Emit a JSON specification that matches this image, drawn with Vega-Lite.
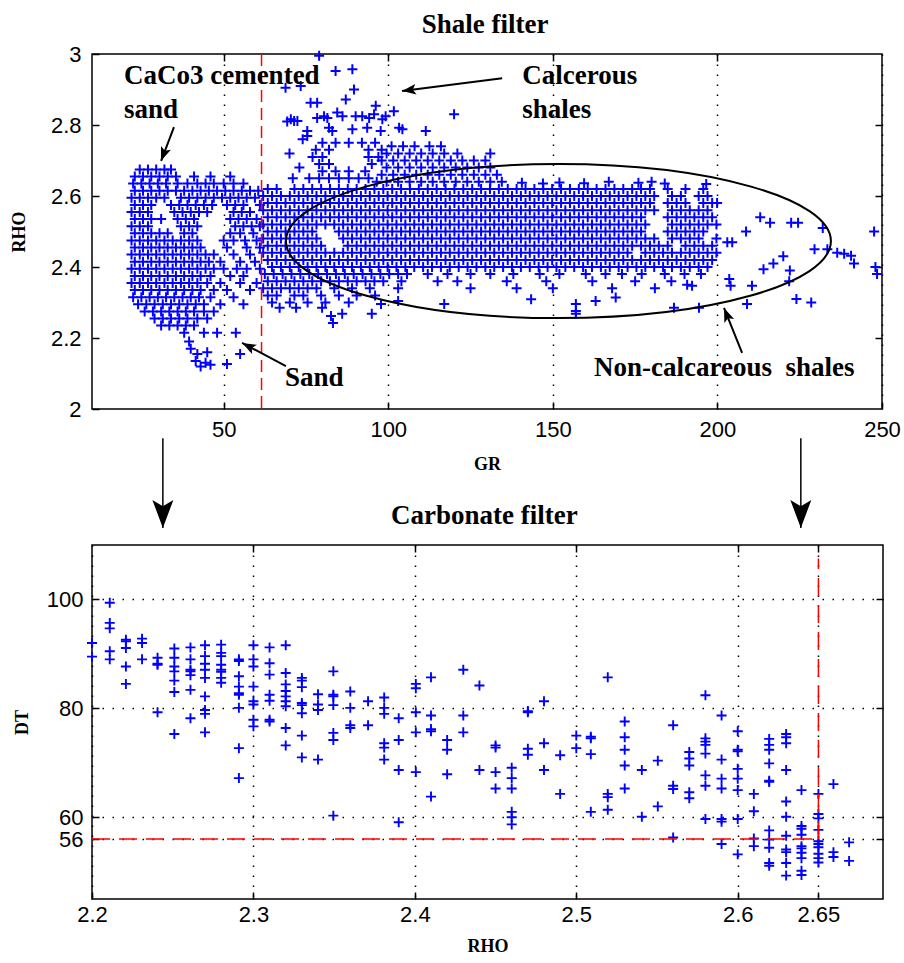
{
"$schema":"https://vega.github.io/schema/vega-lite/v6.json",
"background":"white",
"padding":{"left":9,"top":10,"right":8,"bottom":6},
"bounds":"flush",
"spacing":136,
"config":{
"view":{"stroke":"#000","strokeWidth":1.5},
"axis":{"labelFont":"Liberation Sans","labelFontSize":22,"labelColor":"#000","tickColor":"#000","tickSize":-7,"tickWidth":1.5,"domain":false,"titleFont":"Liberation Serif","titleFontSize":18,"titleFontWeight":"bold","titleColor":"#000","gridColor":"#000","gridDash":[1.5,8.5],"gridWidth":1.5,"gridOpacity":1,"labelOverlap":false,"labelFlush":false}
},
"datasets":{
"shale":[
{"g":24.5,"r":2.675},{"g":27,"r":2.675},{"g":29.5,"r":2.675},{"g":32,"r":2.675},{"g":34,"r":2.675},
{"g":23,"r":2.655},{"g":25.5,"r":2.655},{"g":28,"r":2.655},{"g":30.5,"r":2.655},{"g":33,"r":2.655},{"g":35.5,"r":2.655},{"g":41,"r":2.655},{"g":46,"r":2.655},{"g":52,"r":2.655},
{"g":22.5,"r":2.635},{"g":25,"r":2.635},{"g":27.5,"r":2.635},{"g":30,"r":2.635},{"g":32.5,"r":2.635},{"g":36,"r":2.635},{"g":39,"r":2.635},{"g":42,"r":2.635},{"g":44.5,"r":2.635},{"g":47,"r":2.635},{"g":50,"r":2.635},{"g":53,"r":2.635},{"g":56,"r":2.635},
{"g":23,"r":2.615},{"g":25.5,"r":2.615},{"g":28,"r":2.615},{"g":30.5,"r":2.615},{"g":33,"r":2.615},{"g":35.5,"r":2.615},{"g":38,"r":2.615},{"g":40.5,"r":2.615},{"g":43,"r":2.615},{"g":45.5,"r":2.615},{"g":48,"r":2.615},{"g":50.5,"r":2.615},{"g":53,"r":2.615},{"g":55.5,"r":2.615},{"g":58,"r":2.615},{"g":60.5,"r":2.615},
{"g":22,"r":2.595},{"g":24.5,"r":2.595},{"g":27,"r":2.595},{"g":29.5,"r":2.595},{"g":32,"r":2.595},{"g":37,"r":2.595},{"g":39.5,"r":2.595},{"g":42,"r":2.595},{"g":44.5,"r":2.595},{"g":47,"r":2.595},{"g":49.5,"r":2.595},{"g":52,"r":2.595},{"g":54.5,"r":2.595},{"g":57,"r":2.595},{"g":59.5,"r":2.595},
{"g":23,"r":2.575},{"g":25.5,"r":2.575},{"g":28,"r":2.575},{"g":34,"r":2.575},{"g":36.5,"r":2.575},{"g":39,"r":2.575},{"g":41.5,"r":2.575},{"g":44,"r":2.575},{"g":46.5,"r":2.575},{"g":51,"r":2.575},{"g":53.5,"r":2.575},{"g":56,"r":2.575},{"g":61,"r":2.575},
{"g":22,"r":2.555},{"g":24.5,"r":2.555},{"g":27,"r":2.555},{"g":35,"r":2.555},{"g":37.5,"r":2.555},{"g":40,"r":2.555},{"g":42.5,"r":2.555},{"g":45,"r":2.555},{"g":53,"r":2.555},{"g":55.5,"r":2.555},{"g":58,"r":2.555},
{"g":23,"r":2.535},{"g":25.5,"r":2.535},{"g":28,"r":2.535},{"g":31,"r":2.535},{"g":36,"r":2.535},{"g":38.5,"r":2.535},{"g":41,"r":2.535},{"g":52,"r":2.535},{"g":54.5,"r":2.535},{"g":57,"r":2.535},{"g":60,"r":2.535},
{"g":22,"r":2.515},{"g":24.5,"r":2.515},{"g":27,"r":2.515},{"g":37,"r":2.515},{"g":39.5,"r":2.515},{"g":42,"r":2.515},{"g":53.5,"r":2.515},{"g":56,"r":2.515},{"g":58.5,"r":2.515},{"g":61,"r":2.515},
{"g":23,"r":2.495},{"g":25.5,"r":2.495},{"g":28,"r":2.495},{"g":30.5,"r":2.495},{"g":33,"r":2.495},{"g":38,"r":2.495},{"g":40.5,"r":2.495},{"g":52,"r":2.495},{"g":55,"r":2.495},{"g":59,"r":2.495},
{"g":22,"r":2.475},{"g":24.5,"r":2.475},{"g":27,"r":2.475},{"g":29.5,"r":2.475},{"g":32,"r":2.475},{"g":34.5,"r":2.475},{"g":37,"r":2.475},{"g":39.5,"r":2.475},{"g":42,"r":2.475},{"g":50,"r":2.475},{"g":53,"r":2.475},{"g":56.5,"r":2.475},{"g":60,"r":2.475},
{"g":23,"r":2.455},{"g":25.5,"r":2.455},{"g":28,"r":2.455},{"g":30.5,"r":2.455},{"g":33,"r":2.455},{"g":35.5,"r":2.455},{"g":38,"r":2.455},{"g":40.5,"r":2.455},{"g":43,"r":2.455},{"g":51,"r":2.455},{"g":57,"r":2.455},{"g":61,"r":2.455},
{"g":22,"r":2.435},{"g":24.5,"r":2.435},{"g":27,"r":2.435},{"g":29.5,"r":2.435},{"g":32,"r":2.435},{"g":34.5,"r":2.435},{"g":37,"r":2.435},{"g":39.5,"r":2.435},{"g":42,"r":2.435},{"g":44.5,"r":2.435},{"g":47,"r":2.435},{"g":53,"r":2.435},{"g":58,"r":2.435},
{"g":23,"r":2.415},{"g":25.5,"r":2.415},{"g":28,"r":2.415},{"g":30.5,"r":2.415},{"g":33,"r":2.415},{"g":35.5,"r":2.415},{"g":38,"r":2.415},{"g":40.5,"r":2.415},{"g":43,"r":2.415},{"g":45.5,"r":2.415},{"g":49,"r":2.415},{"g":55,"r":2.415},{"g":59.5,"r":2.415},
{"g":22,"r":2.395},{"g":24.5,"r":2.395},{"g":27,"r":2.395},{"g":29.5,"r":2.395},{"g":32,"r":2.395},{"g":34.5,"r":2.395},{"g":37,"r":2.395},{"g":39.5,"r":2.395},{"g":42,"r":2.395},{"g":44.5,"r":2.395},{"g":47,"r":2.395},{"g":50,"r":2.395},{"g":54,"r":2.395},{"g":57,"r":2.395},{"g":61,"r":2.395},
{"g":23,"r":2.375},{"g":25.5,"r":2.375},{"g":28,"r":2.375},{"g":30.5,"r":2.375},{"g":33,"r":2.375},{"g":35.5,"r":2.375},{"g":38,"r":2.375},{"g":40.5,"r":2.375},{"g":43,"r":2.375},{"g":46,"r":2.375},{"g":52,"r":2.375},{"g":56,"r":2.375},
{"g":22,"r":2.355},{"g":24.5,"r":2.355},{"g":27,"r":2.355},{"g":29.5,"r":2.355},{"g":32,"r":2.355},{"g":34.5,"r":2.355},{"g":37,"r":2.355},{"g":39.5,"r":2.355},{"g":42,"r":2.355},{"g":45,"r":2.355},{"g":49,"r":2.355},{"g":55,"r":2.355},{"g":60,"r":2.355},
{"g":23,"r":2.335},{"g":25.5,"r":2.335},{"g":28,"r":2.335},{"g":30.5,"r":2.335},{"g":33,"r":2.335},{"g":35.5,"r":2.335},{"g":38,"r":2.335},{"g":40.5,"r":2.335},{"g":43,"r":2.335},{"g":47,"r":2.335},{"g":51,"r":2.335},{"g":58,"r":2.335},
{"g":22.5,"r":2.315},{"g":25,"r":2.315},{"g":27.5,"r":2.315},{"g":30,"r":2.315},{"g":32.5,"r":2.315},{"g":35,"r":2.315},{"g":37.5,"r":2.315},{"g":40,"r":2.315},{"g":42.5,"r":2.315},{"g":46,"r":2.315},{"g":53,"r":2.315},
{"g":24,"r":2.295},{"g":26.5,"r":2.295},{"g":29,"r":2.295},{"g":31.5,"r":2.295},{"g":34,"r":2.295},{"g":36.5,"r":2.295},{"g":39,"r":2.295},{"g":41.5,"r":2.295},{"g":44,"r":2.295},{"g":49,"r":2.295},{"g":56,"r":2.295},
{"g":26,"r":2.275},{"g":28.5,"r":2.275},{"g":31,"r":2.275},{"g":33.5,"r":2.275},{"g":36,"r":2.275},{"g":38.5,"r":2.275},{"g":41,"r":2.275},{"g":44,"r":2.275},{"g":47,"r":2.275},
{"g":29,"r":2.255},{"g":31.5,"r":2.255},{"g":34,"r":2.255},{"g":36.5,"r":2.255},{"g":39,"r":2.255},{"g":42,"r":2.255},{"g":45,"r":2.255},
{"g":31,"r":2.235},{"g":33.5,"r":2.235},{"g":36,"r":2.235},{"g":38.5,"r":2.235},{"g":41,"r":2.235},
{"g":38,"r":2.215},{"g":44,"r":2.215},{"g":48,"r":2.215},{"g":53.7,"r":2.215},
{"g":39.5,"r":2.19},{"g":40,"r":2.17},{"g":42,"r":2.155},{"g":41.5,"r":2.135},{"g":43,"r":2.12},{"g":44.5,"r":2.13},{"g":46,"r":2.125},{"g":51,"r":2.127},{"g":55,"r":2.155},{"g":45,"r":2.16},
{"g":63.4,"r":2.62},{"g":66.1,"r":2.62},{"g":71.5,"r":2.62},{"g":74.2,"r":2.62},{"g":76.9,"r":2.62},{"g":79.6,"r":2.62},{"g":82.3,"r":2.62},{"g":85,"r":2.62},{"g":87.7,"r":2.62},{"g":90.4,"r":2.62},{"g":93.1,"r":2.62},{"g":95.8,"r":2.62},{"g":98.5,"r":2.62},{"g":101.2,"r":2.62},{"g":103.9,"r":2.62},{"g":106.6,"r":2.62},{"g":109.3,"r":2.62},{"g":112,"r":2.62},{"g":114.7,"r":2.62},{"g":117.4,"r":2.62},{"g":120.1,"r":2.62},{"g":122.8,"r":2.62},{"g":125.5,"r":2.62},{"g":128.2,"r":2.62},{"g":130.9,"r":2.62},{"g":133.6,"r":2.62},{"g":136.3,"r":2.62},{"g":139,"r":2.62},{"g":141.7,"r":2.62},{"g":144.4,"r":2.62},{"g":147.1,"r":2.62},{"g":149.8,"r":2.62},{"g":152.5,"r":2.62},{"g":155.2,"r":2.62},{"g":157.9,"r":2.62},{"g":160.6,"r":2.62},{"g":163.3,"r":2.62},{"g":166,"r":2.62},{"g":168.7,"r":2.62},{"g":171.4,"r":2.62},{"g":174.1,"r":2.62},{"g":176.8,"r":2.62},{"g":179.5,"r":2.62},{"g":184.9,"r":2.62},{"g":190.3,"r":2.62},{"g":195.7,"r":2.62},
{"g":62,"r":2.6},{"g":64.7,"r":2.6},{"g":67.4,"r":2.6},{"g":70.1,"r":2.6},{"g":72.8,"r":2.6},{"g":75.5,"r":2.6},{"g":78.2,"r":2.6},{"g":80.9,"r":2.6},{"g":83.6,"r":2.6},{"g":86.3,"r":2.6},{"g":89,"r":2.6},{"g":91.7,"r":2.6},{"g":94.4,"r":2.6},{"g":97.1,"r":2.6},{"g":99.8,"r":2.6},{"g":102.5,"r":2.6},{"g":105.2,"r":2.6},{"g":107.9,"r":2.6},{"g":110.6,"r":2.6},{"g":113.3,"r":2.6},{"g":116,"r":2.6},{"g":118.7,"r":2.6},{"g":121.4,"r":2.6},{"g":124.1,"r":2.6},{"g":126.8,"r":2.6},{"g":129.5,"r":2.6},{"g":132.2,"r":2.6},{"g":134.9,"r":2.6},{"g":137.6,"r":2.6},{"g":140.3,"r":2.6},{"g":143,"r":2.6},{"g":145.7,"r":2.6},{"g":148.4,"r":2.6},{"g":151.1,"r":2.6},{"g":153.8,"r":2.6},{"g":156.5,"r":2.6},{"g":159.2,"r":2.6},{"g":161.9,"r":2.6},{"g":164.6,"r":2.6},{"g":167.3,"r":2.6},{"g":170,"r":2.6},{"g":172.7,"r":2.6},{"g":175.4,"r":2.6},{"g":178.1,"r":2.6},{"g":180.8,"r":2.6},{"g":186.2,"r":2.6},{"g":188.9,"r":2.6},{"g":194.3,"r":2.6},{"g":197,"r":2.6},
{"g":63.4,"r":2.58},{"g":66.1,"r":2.58},{"g":68.8,"r":2.58},{"g":71.5,"r":2.58},{"g":74.2,"r":2.58},{"g":76.9,"r":2.58},{"g":79.6,"r":2.58},{"g":82.3,"r":2.58},{"g":85,"r":2.58},{"g":87.7,"r":2.58},{"g":90.4,"r":2.58},{"g":93.1,"r":2.58},{"g":95.8,"r":2.58},{"g":98.5,"r":2.58},{"g":101.2,"r":2.58},{"g":103.9,"r":2.58},{"g":106.6,"r":2.58},{"g":109.3,"r":2.58},{"g":112,"r":2.58},{"g":114.7,"r":2.58},{"g":117.4,"r":2.58},{"g":120.1,"r":2.58},{"g":122.8,"r":2.58},{"g":125.5,"r":2.58},{"g":128.2,"r":2.58},{"g":130.9,"r":2.58},{"g":133.6,"r":2.58},{"g":136.3,"r":2.58},{"g":139,"r":2.58},{"g":141.7,"r":2.58},{"g":144.4,"r":2.58},{"g":147.1,"r":2.58},{"g":149.8,"r":2.58},{"g":152.5,"r":2.58},{"g":155.2,"r":2.58},{"g":157.9,"r":2.58},{"g":160.6,"r":2.58},{"g":163.3,"r":2.58},{"g":166,"r":2.58},{"g":168.7,"r":2.58},{"g":171.4,"r":2.58},{"g":174.1,"r":2.58},{"g":176.8,"r":2.58},{"g":179.5,"r":2.58},{"g":184.9,"r":2.58},{"g":187.6,"r":2.58},{"g":190.3,"r":2.58},{"g":195.7,"r":2.58},{"g":198.4,"r":2.58},
{"g":62,"r":2.56},{"g":64.7,"r":2.56},{"g":67.4,"r":2.56},{"g":70.1,"r":2.56},{"g":72.8,"r":2.56},{"g":75.5,"r":2.56},{"g":78.2,"r":2.56},{"g":80.9,"r":2.56},{"g":83.6,"r":2.56},{"g":86.3,"r":2.56},{"g":89,"r":2.56},{"g":91.7,"r":2.56},{"g":94.4,"r":2.56},{"g":97.1,"r":2.56},{"g":99.8,"r":2.56},{"g":102.5,"r":2.56},{"g":105.2,"r":2.56},{"g":107.9,"r":2.56},{"g":110.6,"r":2.56},{"g":113.3,"r":2.56},{"g":116,"r":2.56},{"g":118.7,"r":2.56},{"g":121.4,"r":2.56},{"g":124.1,"r":2.56},{"g":126.8,"r":2.56},{"g":129.5,"r":2.56},{"g":132.2,"r":2.56},{"g":134.9,"r":2.56},{"g":137.6,"r":2.56},{"g":140.3,"r":2.56},{"g":143,"r":2.56},{"g":145.7,"r":2.56},{"g":148.4,"r":2.56},{"g":151.1,"r":2.56},{"g":153.8,"r":2.56},{"g":156.5,"r":2.56},{"g":159.2,"r":2.56},{"g":161.9,"r":2.56},{"g":164.6,"r":2.56},{"g":167.3,"r":2.56},{"g":170,"r":2.56},{"g":172.7,"r":2.56},{"g":175.4,"r":2.56},{"g":178.1,"r":2.56},{"g":180.8,"r":2.56},{"g":186.2,"r":2.56},{"g":188.9,"r":2.56},{"g":191.6,"r":2.56},{"g":194.3,"r":2.56},{"g":197,"r":2.56},
{"g":63.4,"r":2.54},{"g":66.1,"r":2.54},{"g":68.8,"r":2.54},{"g":71.5,"r":2.54},{"g":74.2,"r":2.54},{"g":76.9,"r":2.54},{"g":79.6,"r":2.54},{"g":82.3,"r":2.54},{"g":85,"r":2.54},{"g":87.7,"r":2.54},{"g":90.4,"r":2.54},{"g":93.1,"r":2.54},{"g":95.8,"r":2.54},{"g":98.5,"r":2.54},{"g":101.2,"r":2.54},{"g":103.9,"r":2.54},{"g":106.6,"r":2.54},{"g":109.3,"r":2.54},{"g":112,"r":2.54},{"g":114.7,"r":2.54},{"g":117.4,"r":2.54},{"g":120.1,"r":2.54},{"g":122.8,"r":2.54},{"g":125.5,"r":2.54},{"g":128.2,"r":2.54},{"g":130.9,"r":2.54},{"g":133.6,"r":2.54},{"g":136.3,"r":2.54},{"g":139,"r":2.54},{"g":141.7,"r":2.54},{"g":144.4,"r":2.54},{"g":147.1,"r":2.54},{"g":149.8,"r":2.54},{"g":152.5,"r":2.54},{"g":155.2,"r":2.54},{"g":157.9,"r":2.54},{"g":160.6,"r":2.54},{"g":163.3,"r":2.54},{"g":166,"r":2.54},{"g":168.7,"r":2.54},{"g":171.4,"r":2.54},{"g":174.1,"r":2.54},{"g":176.8,"r":2.54},{"g":184.9,"r":2.54},{"g":187.6,"r":2.54},{"g":190.3,"r":2.54},{"g":193,"r":2.54},{"g":195.7,"r":2.54},{"g":198.4,"r":2.54},
{"g":62,"r":2.52},{"g":64.7,"r":2.52},{"g":67.4,"r":2.52},{"g":70.1,"r":2.52},{"g":72.8,"r":2.52},{"g":75.5,"r":2.52},{"g":78.2,"r":2.52},{"g":80.9,"r":2.52},{"g":83.6,"r":2.52},{"g":86.3,"r":2.52},{"g":89,"r":2.52},{"g":91.7,"r":2.52},{"g":94.4,"r":2.52},{"g":97.1,"r":2.52},{"g":99.8,"r":2.52},{"g":102.5,"r":2.52},{"g":105.2,"r":2.52},{"g":107.9,"r":2.52},{"g":110.6,"r":2.52},{"g":113.3,"r":2.52},{"g":116,"r":2.52},{"g":118.7,"r":2.52},{"g":121.4,"r":2.52},{"g":124.1,"r":2.52},{"g":126.8,"r":2.52},{"g":129.5,"r":2.52},{"g":132.2,"r":2.52},{"g":134.9,"r":2.52},{"g":137.6,"r":2.52},{"g":140.3,"r":2.52},{"g":143,"r":2.52},{"g":145.7,"r":2.52},{"g":148.4,"r":2.52},{"g":151.1,"r":2.52},{"g":153.8,"r":2.52},{"g":156.5,"r":2.52},{"g":159.2,"r":2.52},{"g":161.9,"r":2.52},{"g":164.6,"r":2.52},{"g":167.3,"r":2.52},{"g":170,"r":2.52},{"g":172.7,"r":2.52},{"g":175.4,"r":2.52},{"g":178.1,"r":2.52},{"g":186.2,"r":2.52},{"g":188.9,"r":2.52},{"g":191.6,"r":2.52},{"g":194.3,"r":2.52},{"g":197,"r":2.52},{"g":199.7,"r":2.52},
{"g":63.4,"r":2.5},{"g":66.1,"r":2.5},{"g":68.8,"r":2.5},{"g":71.5,"r":2.5},{"g":74.2,"r":2.5},{"g":76.9,"r":2.5},{"g":85,"r":2.5},{"g":87.7,"r":2.5},{"g":90.4,"r":2.5},{"g":93.1,"r":2.5},{"g":95.8,"r":2.5},{"g":98.5,"r":2.5},{"g":101.2,"r":2.5},{"g":103.9,"r":2.5},{"g":106.6,"r":2.5},{"g":109.3,"r":2.5},{"g":112,"r":2.5},{"g":114.7,"r":2.5},{"g":117.4,"r":2.5},{"g":120.1,"r":2.5},{"g":122.8,"r":2.5},{"g":125.5,"r":2.5},{"g":128.2,"r":2.5},{"g":130.9,"r":2.5},{"g":133.6,"r":2.5},{"g":136.3,"r":2.5},{"g":139,"r":2.5},{"g":141.7,"r":2.5},{"g":144.4,"r":2.5},{"g":147.1,"r":2.5},{"g":149.8,"r":2.5},{"g":152.5,"r":2.5},{"g":155.2,"r":2.5},{"g":157.9,"r":2.5},{"g":160.6,"r":2.5},{"g":163.3,"r":2.5},{"g":166,"r":2.5},{"g":168.7,"r":2.5},{"g":171.4,"r":2.5},{"g":174.1,"r":2.5},{"g":176.8,"r":2.5},{"g":184.9,"r":2.5},{"g":187.6,"r":2.5},{"g":190.3,"r":2.5},{"g":193,"r":2.5},{"g":195.7,"r":2.5},
{"g":62,"r":2.48},{"g":64.7,"r":2.48},{"g":67.4,"r":2.48},{"g":70.1,"r":2.48},{"g":72.8,"r":2.48},{"g":75.5,"r":2.48},{"g":78.2,"r":2.48},{"g":86.3,"r":2.48},{"g":89,"r":2.48},{"g":91.7,"r":2.48},{"g":94.4,"r":2.48},{"g":97.1,"r":2.48},{"g":99.8,"r":2.48},{"g":102.5,"r":2.48},{"g":105.2,"r":2.48},{"g":107.9,"r":2.48},{"g":110.6,"r":2.48},{"g":113.3,"r":2.48},{"g":116,"r":2.48},{"g":118.7,"r":2.48},{"g":121.4,"r":2.48},{"g":124.1,"r":2.48},{"g":126.8,"r":2.48},{"g":129.5,"r":2.48},{"g":132.2,"r":2.48},{"g":134.9,"r":2.48},{"g":137.6,"r":2.48},{"g":140.3,"r":2.48},{"g":143,"r":2.48},{"g":145.7,"r":2.48},{"g":148.4,"r":2.48},{"g":151.1,"r":2.48},{"g":153.8,"r":2.48},{"g":156.5,"r":2.48},{"g":159.2,"r":2.48},{"g":161.9,"r":2.48},{"g":164.6,"r":2.48},{"g":167.3,"r":2.48},{"g":170,"r":2.48},{"g":172.7,"r":2.48},{"g":175.4,"r":2.48},{"g":178.1,"r":2.48},{"g":180.8,"r":2.48},{"g":186.2,"r":2.48},{"g":188.9,"r":2.48},{"g":191.6,"r":2.48},{"g":194.3,"r":2.48},{"g":199.7,"r":2.48},
{"g":63.4,"r":2.46},{"g":66.1,"r":2.46},{"g":68.8,"r":2.46},{"g":71.5,"r":2.46},{"g":74.2,"r":2.46},{"g":76.9,"r":2.46},{"g":79.6,"r":2.46},{"g":87.7,"r":2.46},{"g":90.4,"r":2.46},{"g":93.1,"r":2.46},{"g":95.8,"r":2.46},{"g":98.5,"r":2.46},{"g":101.2,"r":2.46},{"g":103.9,"r":2.46},{"g":106.6,"r":2.46},{"g":109.3,"r":2.46},{"g":112,"r":2.46},{"g":114.7,"r":2.46},{"g":117.4,"r":2.46},{"g":120.1,"r":2.46},{"g":122.8,"r":2.46},{"g":125.5,"r":2.46},{"g":128.2,"r":2.46},{"g":130.9,"r":2.46},{"g":133.6,"r":2.46},{"g":136.3,"r":2.46},{"g":139,"r":2.46},{"g":141.7,"r":2.46},{"g":144.4,"r":2.46},{"g":147.1,"r":2.46},{"g":149.8,"r":2.46},{"g":152.5,"r":2.46},{"g":155.2,"r":2.46},{"g":157.9,"r":2.46},{"g":160.6,"r":2.46},{"g":163.3,"r":2.46},{"g":166,"r":2.46},{"g":168.7,"r":2.46},{"g":171.4,"r":2.46},{"g":174.1,"r":2.46},{"g":176.8,"r":2.46},{"g":179.5,"r":2.46},{"g":182.2,"r":2.46},{"g":184.9,"r":2.46},{"g":190.3,"r":2.46},{"g":193,"r":2.46},{"g":195.7,"r":2.46},{"g":198.4,"r":2.46},
{"g":62,"r":2.44},{"g":64.7,"r":2.44},{"g":67.4,"r":2.44},{"g":70.1,"r":2.44},{"g":72.8,"r":2.44},{"g":75.5,"r":2.44},{"g":78.2,"r":2.44},{"g":80.9,"r":2.44},{"g":83.6,"r":2.44},{"g":86.3,"r":2.44},{"g":89,"r":2.44},{"g":91.7,"r":2.44},{"g":94.4,"r":2.44},{"g":97.1,"r":2.44},{"g":99.8,"r":2.44},{"g":102.5,"r":2.44},{"g":105.2,"r":2.44},{"g":107.9,"r":2.44},{"g":110.6,"r":2.44},{"g":113.3,"r":2.44},{"g":116,"r":2.44},{"g":118.7,"r":2.44},{"g":121.4,"r":2.44},{"g":124.1,"r":2.44},{"g":126.8,"r":2.44},{"g":129.5,"r":2.44},{"g":132.2,"r":2.44},{"g":134.9,"r":2.44},{"g":137.6,"r":2.44},{"g":140.3,"r":2.44},{"g":143,"r":2.44},{"g":145.7,"r":2.44},{"g":148.4,"r":2.44},{"g":151.1,"r":2.44},{"g":153.8,"r":2.44},{"g":156.5,"r":2.44},{"g":159.2,"r":2.44},{"g":161.9,"r":2.44},{"g":164.6,"r":2.44},{"g":167.3,"r":2.44},{"g":170,"r":2.44},{"g":172.7,"r":2.44},{"g":178.1,"r":2.44},{"g":180.8,"r":2.44},{"g":183.5,"r":2.44},{"g":186.2,"r":2.44},{"g":188.9,"r":2.44},{"g":191.6,"r":2.44},{"g":194.3,"r":2.44},{"g":197,"r":2.44},{"g":199.7,"r":2.44},
{"g":63.4,"r":2.42},{"g":66.1,"r":2.42},{"g":68.8,"r":2.42},{"g":71.5,"r":2.42},{"g":74.2,"r":2.42},{"g":76.9,"r":2.42},{"g":79.6,"r":2.42},{"g":82.3,"r":2.42},{"g":85,"r":2.42},{"g":87.7,"r":2.42},{"g":90.4,"r":2.42},{"g":93.1,"r":2.42},{"g":95.8,"r":2.42},{"g":98.5,"r":2.42},{"g":101.2,"r":2.42},{"g":103.9,"r":2.42},{"g":106.6,"r":2.42},{"g":109.3,"r":2.42},{"g":112,"r":2.42},{"g":114.7,"r":2.42},{"g":117.4,"r":2.42},{"g":120.1,"r":2.42},{"g":122.8,"r":2.42},{"g":125.5,"r":2.42},{"g":128.2,"r":2.42},{"g":130.9,"r":2.42},{"g":133.6,"r":2.42},{"g":136.3,"r":2.42},{"g":139,"r":2.42},{"g":141.7,"r":2.42},{"g":144.4,"r":2.42},{"g":147.1,"r":2.42},{"g":149.8,"r":2.42},{"g":152.5,"r":2.42},{"g":155.2,"r":2.42},{"g":157.9,"r":2.42},{"g":160.6,"r":2.42},{"g":163.3,"r":2.42},{"g":166,"r":2.42},{"g":168.7,"r":2.42},{"g":171.4,"r":2.42},{"g":174.1,"r":2.42},{"g":176.8,"r":2.42},{"g":179.5,"r":2.42},{"g":182.2,"r":2.42},{"g":184.9,"r":2.42},{"g":187.6,"r":2.42},{"g":190.3,"r":2.42},{"g":193,"r":2.42},{"g":195.7,"r":2.42},{"g":198.4,"r":2.42},
{"g":64.7,"r":2.4},{"g":67.4,"r":2.4},{"g":70.1,"r":2.4},{"g":72.8,"r":2.4},{"g":75.5,"r":2.4},{"g":78.2,"r":2.4},{"g":80.9,"r":2.4},{"g":83.6,"r":2.4},{"g":86.3,"r":2.4},{"g":89,"r":2.4},{"g":91.7,"r":2.4},{"g":94.4,"r":2.4},{"g":97.1,"r":2.4},{"g":99.8,"r":2.4},{"g":102.5,"r":2.4},{"g":105.2,"r":2.4},{"g":107.9,"r":2.4},{"g":110.6,"r":2.4},{"g":113.3,"r":2.4},{"g":116,"r":2.4},{"g":118.7,"r":2.4},{"g":121.4,"r":2.4},{"g":124.1,"r":2.4},{"g":126.8,"r":2.4},{"g":129.5,"r":2.4},{"g":132.2,"r":2.4},{"g":134.9,"r":2.4},{"g":137.6,"r":2.4},{"g":140.3,"r":2.4},{"g":143,"r":2.4},{"g":145.7,"r":2.4},{"g":148.4,"r":2.4},{"g":151.1,"r":2.4},{"g":153.8,"r":2.4},{"g":156.5,"r":2.4},{"g":159.2,"r":2.4},{"g":161.9,"r":2.4},{"g":164.6,"r":2.4},{"g":167.3,"r":2.4},{"g":170,"r":2.4},{"g":172.7,"r":2.4},{"g":175.4,"r":2.4},{"g":178.1,"r":2.4},{"g":180.8,"r":2.4},{"g":183.5,"r":2.4},{"g":186.2,"r":2.4},{"g":188.9,"r":2.4},{"g":191.6,"r":2.4},{"g":194.3,"r":2.4},{"g":197,"r":2.4},
{"g":62.5,"r":2.38},{"g":65.2,"r":2.38},{"g":67.9,"r":2.38},{"g":70.6,"r":2.38},{"g":73.3,"r":2.38},{"g":76,"r":2.38},{"g":78.7,"r":2.38},{"g":81.4,"r":2.38},{"g":84.1,"r":2.38},{"g":86.8,"r":2.38},{"g":89.5,"r":2.38},{"g":92.2,"r":2.38},{"g":94.9,"r":2.38},{"g":97.6,"r":2.38},{"g":100.3,"r":2.38},{"g":103,"r":2.38},{"g":105.7,"r":2.38},{"g":112,"r":2.38},{"g":118,"r":2.38},{"g":125,"r":2.38},{"g":131,"r":2.38},{"g":138,"r":2.38},{"g":146,"r":2.38},{"g":152,"r":2.38},{"g":160,"r":2.38},{"g":166,"r":2.38},{"g":171,"r":2.38},{"g":177,"r":2.38},{"g":184,"r":2.38},{"g":190,"r":2.38},{"g":195,"r":2.38},
{"g":63.4,"r":2.36},{"g":66.1,"r":2.36},{"g":68.8,"r":2.36},{"g":71.5,"r":2.36},{"g":74.2,"r":2.36},{"g":76.9,"r":2.36},{"g":79.6,"r":2.36},{"g":82.3,"r":2.36},{"g":85,"r":2.36},{"g":87.7,"r":2.36},{"g":90.4,"r":2.36},{"g":93.1,"r":2.36},{"g":95.8,"r":2.36},{"g":98.5,"r":2.36},{"g":104,"r":2.36},{"g":115,"r":2.36},{"g":121,"r":2.36},{"g":136,"r":2.36},{"g":148,"r":2.36},{"g":162,"r":2.36},{"g":175,"r":2.36},{"g":186,"r":2.36},{"g":192.3,"r":2.347},
{"g":62,"r":2.34},{"g":64.7,"r":2.34},{"g":67.4,"r":2.34},{"g":70.1,"r":2.34},{"g":72.8,"r":2.34},{"g":75.5,"r":2.34},{"g":78.2,"r":2.34},{"g":83.6,"r":2.34},{"g":89,"r":2.34},{"g":94.4,"r":2.34},{"g":103,"r":2.34},{"g":125,"r":2.34},{"g":139,"r":2.34},{"g":150,"r":2.34},{"g":168,"r":2.34},{"g":181,"r":2.34},{"g":190.8,"r":2.35},
{"g":63.4,"r":2.32},{"g":66.1,"r":2.32},{"g":71.5,"r":2.32},{"g":74.2,"r":2.32},{"g":79.6,"r":2.32},{"g":85,"r":2.32},{"g":90.4,"r":2.32},{"g":96,"r":2.32},{"g":143.4,"r":2.309},
{"g":64.7,"r":2.3},{"g":70.1,"r":2.3},{"g":75.5,"r":2.3},{"g":80.9,"r":2.3},{"g":88,"r":2.3},{"g":97.8,"r":2.296},{"g":103,"r":2.304},{"g":117,"r":2.296},{"g":163,"r":2.304},{"g":169.1,"r":2.314},
{"g":67,"r":2.285},{"g":72,"r":2.285},{"g":79.9,"r":2.285},{"g":186.8,"r":2.285},{"g":194.4,"r":2.285},
{"g":86,"r":2.268},{"g":95,"r":2.268},{"g":157,"r":2.296},{"g":157,"r":2.276},{"g":157,"r":2.268},{"g":82.6,"r":2.262},{"g":83.2,"r":2.242},
{"g":101,"r":2.74},{"g":104.5,"r":2.74},{"g":108,"r":2.74},{"g":112.5,"r":2.74},{"g":116,"r":2.74},
{"g":99.5,"r":2.72},{"g":103,"r":2.72},{"g":106.5,"r":2.72},{"g":110,"r":2.72},{"g":113.5,"r":2.72},{"g":117,"r":2.72},{"g":121,"r":2.72},{"g":131,"r":2.72},
{"g":98,"r":2.7},{"g":101.5,"r":2.7},{"g":105,"r":2.7},{"g":108.5,"r":2.7},{"g":112,"r":2.7},{"g":115.5,"r":2.7},{"g":119,"r":2.7},{"g":122.5,"r":2.7},{"g":126,"r":2.7},{"g":129.5,"r":2.7},
{"g":99.5,"r":2.68},{"g":103,"r":2.68},{"g":106.5,"r":2.68},{"g":110,"r":2.68},{"g":113.5,"r":2.68},{"g":117,"r":2.68},{"g":120.5,"r":2.68},{"g":124,"r":2.68},{"g":127.5,"r":2.68},{"g":131,"r":2.68},
{"g":98,"r":2.66},{"g":101.5,"r":2.66},{"g":105,"r":2.66},{"g":108.5,"r":2.66},{"g":112,"r":2.66},{"g":115.5,"r":2.66},{"g":119,"r":2.66},{"g":122.5,"r":2.66},{"g":126,"r":2.66},{"g":129.5,"r":2.66},{"g":133,"r":2.66},
{"g":96.5,"r":2.64},{"g":99.5,"r":2.64},{"g":103,"r":2.64},{"g":106.5,"r":2.64},{"g":110,"r":2.64},{"g":113.5,"r":2.64},{"g":117,"r":2.64},{"g":120.5,"r":2.64},{"g":124,"r":2.64},{"g":127.5,"r":2.64},{"g":131,"r":2.64},{"g":134.5,"r":2.64},{"g":140.6,"r":2.637},{"g":147,"r":2.635},{"g":152,"r":2.638},{"g":159.5,"r":2.636},{"g":167,"r":2.64},{"g":176,"r":2.637},{"g":180,"r":2.64},{"g":184,"r":2.635},{"g":196.6,"r":2.634},
{"g":80,"r":2.75},{"g":84,"r":2.75},{"g":88,"r":2.75},{"g":92,"r":2.75},{"g":96,"r":2.75},
{"g":78,"r":2.73},{"g":82,"r":2.73},{"g":94,"r":2.73},{"g":98,"r":2.73},
{"g":77,"r":2.71},{"g":80,"r":2.71},{"g":94,"r":2.71},{"g":97,"r":2.71},
{"g":79,"r":2.69},{"g":82,"r":2.69},{"g":95,"r":2.69},
{"g":80,"r":2.67},{"g":84,"r":2.67},{"g":88,"r":2.67},{"g":93,"r":2.67},
{"g":76,"r":2.65},{"g":79,"r":2.65},{"g":82,"r":2.65},{"g":85,"r":2.65},{"g":88,"r":2.65},{"g":91,"r":2.65},{"g":94,"r":2.65},
{"g":70,"r":2.72},{"g":73,"r":2.68},{"g":71,"r":2.65},{"g":74,"r":2.76},{"g":69.3,"r":2.81},
{"g":79,"r":2.995},{"g":84,"r":2.952},{"g":89.1,"r":2.957},{"g":89.6,"r":2.9},{"g":68.8,"r":2.905},{"g":73.4,"r":2.91},{"g":76.4,"r":2.863},{"g":78.4,"r":2.863},{"g":87.1,"r":2.872},{"g":71.4,"r":2.811},{"g":72.4,"r":2.811},{"g":75.4,"r":2.783},{"g":75.4,"r":2.769},{"g":78.4,"r":2.82},{"g":80.5,"r":2.825},{"g":81.5,"r":2.82},{"g":84.5,"r":2.835},{"g":86.1,"r":2.825},{"g":90.1,"r":2.825},{"g":92.1,"r":2.825},{"g":94.2,"r":2.82},{"g":95.7,"r":2.83},{"g":96.2,"r":2.854},{"g":98.2,"r":2.816},{"g":99.2,"r":2.825},{"g":101.7,"r":2.839},{"g":103.3,"r":2.792},{"g":104.3,"r":2.788},{"g":111.4,"r":2.783},{"g":120,"r":2.83},{"g":82,"r":2.792},{"g":83,"r":2.783},{"g":89.1,"r":2.788},{"g":93.6,"r":2.792},{"g":97.7,"r":2.783},{"g":70.4,"r":2.816},
{"g":199.9,"r":2.58},{"g":203,"r":2.47},{"g":204.5,"r":2.47},{"g":203.6,"r":2.366},{"g":204,"r":2.347},{"g":208.7,"r":2.5},{"g":210.5,"r":2.347},{"g":209,"r":2.296},{"g":213,"r":2.54},{"g":216,"r":2.525},{"g":214,"r":2.394},{"g":217,"r":2.41},{"g":220,"r":2.43},{"g":222,"r":2.39},{"g":221.8,"r":2.36},{"g":222.4,"r":2.525},{"g":224.5,"r":2.525},{"g":224,"r":2.31},{"g":228.5,"r":2.3},{"g":232,"r":2.51},{"g":229.5,"r":2.45},{"g":233.4,"r":2.45},{"g":236.4,"r":2.44},{"g":238.5,"r":2.437},{"g":240.6,"r":2.432},{"g":241.5,"r":2.41},{"g":247.6,"r":2.5},{"g":248,"r":2.4},{"g":248.5,"r":2.38}
],
"carb":[
{"r":2.2,"d":92},{"r":2.2,"d":89.5},
{"r":2.211,"d":99.4},{"r":2.211,"d":95.7},{"r":2.211,"d":94.7},{"r":2.211,"d":90.5},{"r":2.211,"d":89},
{"r":2.221,"d":92.6},{"r":2.221,"d":92.3},{"r":2.221,"d":91.1},{"r":2.221,"d":87.7},{"r":2.221,"d":84.5},
{"r":2.231,"d":92.8},{"r":2.231,"d":92},{"r":2.231,"d":89},
{"r":2.2406,"d":89.3},{"r":2.2406,"d":88.2},{"r":2.2406,"d":88},{"r":2.2406,"d":79.3},
{"r":2.251,"d":91},{"r":2.251,"d":89.3},{"r":2.251,"d":87.7},{"r":2.251,"d":86.8},{"r":2.251,"d":85.1},{"r":2.251,"d":83},{"r":2.251,"d":75.3},
{"r":2.261,"d":91.2},{"r":2.261,"d":89},{"r":2.261,"d":87.1},{"r":2.261,"d":86.8},{"r":2.261,"d":86.1},{"r":2.261,"d":83.4},{"r":2.261,"d":78.2},
{"r":2.27,"d":91.6},{"r":2.27,"d":89.6},{"r":2.27,"d":88.2},{"r":2.27,"d":87.1},{"r":2.27,"d":85.6},{"r":2.27,"d":82.2},{"r":2.27,"d":79.7},{"r":2.27,"d":79},{"r":2.27,"d":75.6},
{"r":2.28,"d":91.7},{"r":2.28,"d":90.2},{"r":2.28,"d":89.6},{"r":2.28,"d":88},{"r":2.28,"d":87.1},{"r":2.28,"d":86.7},{"r":2.28,"d":85.6},{"r":2.28,"d":84.7},
{"r":2.291,"d":89},{"r":2.291,"d":88.7},{"r":2.291,"d":85.9},{"r":2.291,"d":84},{"r":2.291,"d":82.8},{"r":2.291,"d":82.5},{"r":2.291,"d":80.1},{"r":2.291,"d":72.7},{"r":2.291,"d":67.2},
{"r":2.3,"d":91.6},{"r":2.3,"d":89},{"r":2.3,"d":87.7},{"r":2.3,"d":84},{"r":2.3,"d":81.3},{"r":2.3,"d":80.7},{"r":2.3,"d":77.9},{"r":2.3,"d":76.7},
{"r":2.31,"d":91.2},{"r":2.31,"d":88.3},{"r":2.31,"d":86.2},{"r":2.31,"d":82.5},{"r":2.31,"d":81.4},{"r":2.31,"d":77.9},{"r":2.31,"d":77.6},
{"r":2.32,"d":91.6},{"r":2.32,"d":86.5},{"r":2.32,"d":84.4},{"r":2.32,"d":83.2},{"r":2.32,"d":82.2},{"r":2.32,"d":81.3},{"r":2.32,"d":80.4},{"r":2.32,"d":76.4},{"r":2.32,"d":73.2},
{"r":2.33,"d":85.6},{"r":2.33,"d":85.1},{"r":2.33,"d":83.9},{"r":2.33,"d":81},{"r":2.33,"d":80.6},{"r":2.33,"d":79.1},{"r":2.33,"d":75},{"r":2.33,"d":71},
{"r":2.34,"d":82.6},{"r":2.34,"d":80.7},{"r":2.34,"d":79.7},{"r":2.34,"d":70.6},
{"r":2.3495,"d":86.8},{"r":2.3495,"d":82.5},{"r":2.3495,"d":82.2},{"r":2.3495,"d":80.6},{"r":2.3495,"d":75.5},{"r":2.3495,"d":74.2},{"r":2.3495,"d":60.3},
{"r":2.36,"d":83.1},{"r":2.36,"d":80.1},{"r":2.36,"d":76.9},{"r":2.36,"d":76.4},
{"r":2.371,"d":81.3},{"r":2.371,"d":76.9},
{"r":2.381,"d":82},{"r":2.381,"d":80.1},{"r":2.381,"d":79},{"r":2.381,"d":73.6},{"r":2.381,"d":72.8},{"r":2.381,"d":70.6},
{"r":2.39,"d":78.2},{"r":2.39,"d":74.2},{"r":2.39,"d":68.7},{"r":2.39,"d":59.1},
{"r":2.4006,"d":84.5},{"r":2.4006,"d":83.7},{"r":2.4006,"d":79.3},{"r":2.4006,"d":75.6},{"r":2.4006,"d":68.3},
{"r":2.41,"d":85.7},{"r":2.41,"d":78.7},{"r":2.41,"d":76.2},{"r":2.41,"d":75.8},{"r":2.41,"d":63.8},
{"r":2.42,"d":74.2},{"r":2.42,"d":72.4},{"r":2.42,"d":67.9},
{"r":2.43,"d":87.1},{"r":2.43,"d":78.7},{"r":2.43,"d":75.6},
{"r":2.44,"d":84.2},{"r":2.44,"d":68.7},
{"r":2.45,"d":73.2},{"r":2.45,"d":72.8},{"r":2.45,"d":68.3},{"r":2.45,"d":65.3},
{"r":2.46,"d":69.1},{"r":2.46,"d":67.2},{"r":2.46,"d":65.3},{"r":2.46,"d":61},{"r":2.46,"d":60},{"r":2.46,"d":58.7},
{"r":2.47,"d":79.5},{"r":2.47,"d":79.3},{"r":2.47,"d":72.6},{"r":2.47,"d":71.5},
{"r":2.48,"d":81.3},{"r":2.48,"d":73.6},{"r":2.48,"d":68.7},
{"r":2.49,"d":71.4},{"r":2.49,"d":64.3},
{"r":2.5,"d":75},{"r":2.5,"d":72.7},
{"r":2.509,"d":74.8},{"r":2.509,"d":74.5},{"r":2.509,"d":71.6},{"r":2.509,"d":61},
{"r":2.5195,"d":85.7},{"r":2.5195,"d":64.3},{"r":2.5195,"d":63.7},{"r":2.5195,"d":61.4},
{"r":2.53,"d":77.6},{"r":2.53,"d":74.7},{"r":2.53,"d":72.4},{"r":2.53,"d":69.5},{"r":2.53,"d":65.3},
{"r":2.5406,"d":68.7},{"r":2.5406,"d":60.1},
{"r":2.5505,"d":70.4},{"r":2.5505,"d":62},
{"r":2.56,"d":76.9},{"r":2.56,"d":65.8},{"r":2.56,"d":65.2},{"r":2.56,"d":56.3},
{"r":2.57,"d":72},{"r":2.57,"d":70.8},{"r":2.57,"d":69.5},{"r":2.57,"d":64.6},{"r":2.57,"d":63.5},
{"r":2.58,"d":82.4},{"r":2.58,"d":74.5},{"r":2.58,"d":73.9},{"r":2.58,"d":73.3},{"r":2.58,"d":71.7},{"r":2.58,"d":67.7},{"r":2.58,"d":65.8},{"r":2.58,"d":59.7},
{"r":2.59,"d":78.7},{"r":2.59,"d":70.6},{"r":2.59,"d":67.1},{"r":2.59,"d":65.3},{"r":2.59,"d":59.7},{"r":2.59,"d":59.2},{"r":2.59,"d":55.1},
{"r":2.6,"d":75.8},{"r":2.6,"d":72.4},{"r":2.6,"d":72.1},{"r":2.6,"d":68.9},{"r":2.6,"d":67.1},{"r":2.6,"d":65},{"r":2.6,"d":59.7},{"r":2.6,"d":53.2},
{"r":2.61,"d":64.3},{"r":2.61,"d":61.1},{"r":2.61,"d":56.1},{"r":2.61,"d":54.7},
{"r":2.6195,"d":74.4},{"r":2.6195,"d":73.3},{"r":2.6195,"d":72.4},{"r":2.6195,"d":69.9},{"r":2.6195,"d":66.7},{"r":2.6195,"d":66.5},{"r":2.6195,"d":57.6},{"r":2.6195,"d":55.9},{"r":2.6195,"d":54.4},{"r":2.6195,"d":51.6},{"r":2.6195,"d":51.1},
{"r":2.63,"d":75.3},{"r":2.63,"d":74.7},{"r":2.63,"d":73.6},{"r":2.63,"d":68.7},{"r":2.63,"d":62.9},{"r":2.63,"d":60.1},{"r":2.63,"d":56.6},{"r":2.63,"d":54.1},{"r":2.63,"d":53.6},{"r":2.63,"d":51.6},{"r":2.63,"d":49.3},
{"r":2.6395,"d":65},{"r":2.6395,"d":58.4},{"r":2.6395,"d":57.9},{"r":2.6395,"d":56.8},{"r":2.6395,"d":54.7},{"r":2.6395,"d":54.3},{"r":2.6395,"d":53.5},{"r":2.6395,"d":52.5},{"r":2.6395,"d":50.2},{"r":2.6395,"d":49.4},
{"r":2.65,"d":64.3},{"r":2.65,"d":60.6},{"r":2.65,"d":59.8},{"r":2.65,"d":57.7},{"r":2.65,"d":55.6},{"r":2.65,"d":55.1},{"r":2.65,"d":54.5},{"r":2.65,"d":53.3},{"r":2.65,"d":52.5},{"r":2.65,"d":51.7},
{"r":2.6593,"d":66.1},{"r":2.6593,"d":53.6},{"r":2.6593,"d":52.7},
{"r":2.669,"d":55.4},{"r":2.669,"d":52}
]
},
"vconcat":[
{
"width":790,"height":355,
"layer":[
{"data":{"name":"shale"},
"mark":{"type":"point","shape":"M-1,0L1,0M0,-1L0,1","filled":false,"color":"#0000ff","strokeWidth":2,"size":100,"opacity":1},
"encoding":{
"x":{"field":"g","type":"quantitative","scale":{"domain":[10,250],"nice":false,"zero":false},"axis":{"orient":"bottom","title":"GR","values":[50,100,150,200,250],"format":".4~r","grid":true,"labelPadding":17,"titleX":395,"titleY":55,"titleBaseline":"middle"}},
"y":{"field":"r","type":"quantitative","scale":{"domain":[2,3],"nice":false,"zero":false},"axis":{"orient":"left","title":"RHO","values":[2,2.2,2.4,2.6,2.8,3],"format":".4~r","grid":false,"labelPadding":18,"titleX":-73,"titleY":177.5,"titleBaseline":"middle","titleAngle":-90}}}},
{"data":{"values":[{}]},
"mark":{"type":"rule","color":"#ff0000","strokeWidth":1.5,"strokeDash":[12,6]},
"encoding":{"x":{"datum":61.5,"type":"quantitative","axis":null}}},
{"data":{"values":[{"g":151.7,"r":2.473}]},
"mark":{"type":"point","shape":"M-1,0C-1,-0.156,-0.552,-0.2826,0,-0.2826C0.552,-0.2826,1,-0.156,1,0C1,0.156,0.552,0.2826,0,0.2826C-0.552,0.2826,-1,0.156,-1,0Z","filled":false,"color":"#000","strokeWidth":2,"size":297025,"opacity":1},
"encoding":{"x":{"field":"g","type":"quantitative","axis":null},"y":{"field":"r","type":"quantitative","axis":null}}},
{"data":{"values":[{"g":34.9,"r":2.794,"g2":31.0,"r2":2.699},{"g":134.6,"r":2.932,"g2":104.2,"r2":2.896},{"g":68.9,"r":2.121,"g2":55.6,"r2":2.186},{"g":207.5,"r":2.158,"g2":202.0,"r2":2.285}]},
"mark":{"type":"rule","color":"#000","strokeWidth":2},
"encoding":{"x":{"field":"g","type":"quantitative","axis":null},"y":{"field":"r","type":"quantitative","axis":null},"x2":{"field":"g2"},"y2":{"field":"r2"}}},
{"data":{"values":[{"g":31.7,"r":2.717}]},
"mark":{"type":"point","shape":"M0,-1L0.75,1L0,0.55L-0.75,1Z","filled":true,"color":"#000","opacity":1,"size":196,"angle":201},
"encoding":{"x":{"field":"g","type":"quantitative","axis":null},"y":{"field":"r","type":"quantitative","axis":null}}},
{"data":{"values":[{"g":106.3,"r":2.898}]},
"mark":{"type":"point","shape":"M0,-1L0.75,1L0,0.55L-0.75,1Z","filled":true,"color":"#000","opacity":1,"size":196,"angle":262.6},
"encoding":{"x":{"field":"g","type":"quantitative","axis":null},"y":{"field":"r","type":"quantitative","axis":null}}},
{"data":{"values":[{"g":57.5,"r":2.177}]},
"mark":{"type":"point","shape":"M0,-1L0.75,1L0,0.55L-0.75,1Z","filled":true,"color":"#000","opacity":1,"size":196,"angle":297.6},
"encoding":{"x":{"field":"g","type":"quantitative","axis":null},"y":{"field":"r","type":"quantitative","axis":null}}},
{"data":{"values":[{"g":202.8,"r":2.266}]},
"mark":{"type":"point","shape":"M0,-1L0.75,1L0,0.55L-0.75,1Z","filled":true,"color":"#000","opacity":1,"size":196,"angle":338.2},
"encoding":{"x":{"field":"g","type":"quantitative","axis":null},"y":{"field":"r","type":"quantitative","axis":null}}},
{"data":{"values":[{"g":129.4,"r":3.059,"t":"Shale filter"}]},
"mark":{"type":"text","align":"center","baseline":"alphabetic","font":"Liberation Serif","fontWeight":"bold","fontSize":27,"color":"#000","clip":false},
"encoding":{"x":{"field":"g","type":"quantitative","axis":null},"y":{"field":"r","type":"quantitative","axis":null},"text":{"field":"t"}}},
{"data":{"values":[{"g":19.7,"r":2.916,"t":"CaCo3 cemented"},{"g":19.7,"r":2.819,"t":"sand"},{"g":140.7,"r":2.915,"t":"Calcerous"},{"g":140.7,"r":2.819,"t":"shales"},{"g":68.6,"r":2.065,"t":"Sand"},{"g":162.5,"r":2.093,"t":"Non-calcareous\u00a0 shales"}]},
"mark":{"type":"text","align":"left","baseline":"alphabetic","font":"Liberation Serif","fontWeight":"bold","fontSize":27,"color":"#000"},
"encoding":{"x":{"field":"g","type":"quantitative","axis":{"orient":"top","labels":false,"title":null,"values":[50,100,150,200],"grid":false}},"y":{"field":"r","type":"quantitative","axis":{"orient":"right","labels":false,"title":null,"values":[2.2,2.4,2.6,2.8],"grid":false}},"text":{"field":"t"}}}
],
"resolve":{"axis":{"x":"independent","y":"independent"}}
},
{
"width":791,"height":354,
"layer":[
{"data":{"name":"carb"},
"mark":{"type":"point","shape":"M-1,0L1,0M0,-1L0,1","filled":false,"color":"#0000ff","strokeWidth":1.9,"size":100,"opacity":1},
"encoding":{
"x":{"field":"r","type":"quantitative","scale":{"domain":[2.2,2.69],"nice":false,"zero":false},"axis":{"orient":"bottom","title":"RHO","values":[2.2,2.3,2.4,2.5,2.6,2.65],"format":".4~r","grid":true,"labelPadding":12,"titleX":395.5,"titleY":47,"titleBaseline":"middle"}},
"y":{"field":"d","type":"quantitative","scale":{"domain":[45,110],"nice":false,"zero":false},"axis":{"orient":"left","title":"DT","values":[56,60,80,100],"format":".4~r","grid":true,"labelPadding":16,"titleX":-70,"titleY":177,"titleBaseline":"middle","titleAngle":-90}}}},
{"data":{"values":[{"r":2.2,"d":56,"r2":2.65,"d2":56},{"r":2.65,"d":56,"r2":2.65,"d2":107.5}]},
"mark":{"type":"rule","color":"#ff0000","strokeWidth":1.5,"strokeDash":[18,9]},
"encoding":{"x":{"field":"r","type":"quantitative","axis":{"orient":"top","labels":false,"title":null,"values":[2.3,2.4,2.5,2.6,2.65],"grid":false}},"y":{"field":"d","type":"quantitative","axis":{"orient":"right","labels":false,"title":null,"values":[56,60,80,100],"grid":false}},"x2":{"field":"r2"},"y2":{"field":"d2"}}},
{"data":{"values":[{"r":2.2439,"d":129.6,"d2":113.1},{"r":2.6391,"d":129.6,"d2":113.1}]},
"mark":{"type":"rule","color":"#000","strokeWidth":1.5,"clip":false},
"encoding":{"x":{"field":"r","type":"quantitative","axis":null},"y":{"field":"d","type":"quantitative","axis":null},"y2":{"field":"d2"}}},
{"data":{"values":[{"r":2.2439,"d":115.7},{"r":2.6391,"d":115.7}]},
"mark":{"type":"point","shape":"M0,-1L0.75,1L0,0.55L-0.75,1Z","filled":true,"color":"#000","opacity":1,"size":784,"angle":180,"clip":false},
"encoding":{"x":{"field":"r","type":"quantitative","axis":null},"y":{"field":"d","type":"quantitative","axis":null}}},
{"data":{"values":[{"r":2.443,"d":113.9,"t":"Carbonate filter"}]},
"mark":{"type":"text","align":"center","baseline":"alphabetic","font":"Liberation Serif","fontWeight":"bold","fontSize":27,"color":"#000","clip":false},
"encoding":{"x":{"field":"r","type":"quantitative","axis":null},"y":{"field":"d","type":"quantitative","axis":null},"text":{"field":"t"}}}
],
"resolve":{"axis":{"x":"independent","y":"independent"}}
}
]
}
